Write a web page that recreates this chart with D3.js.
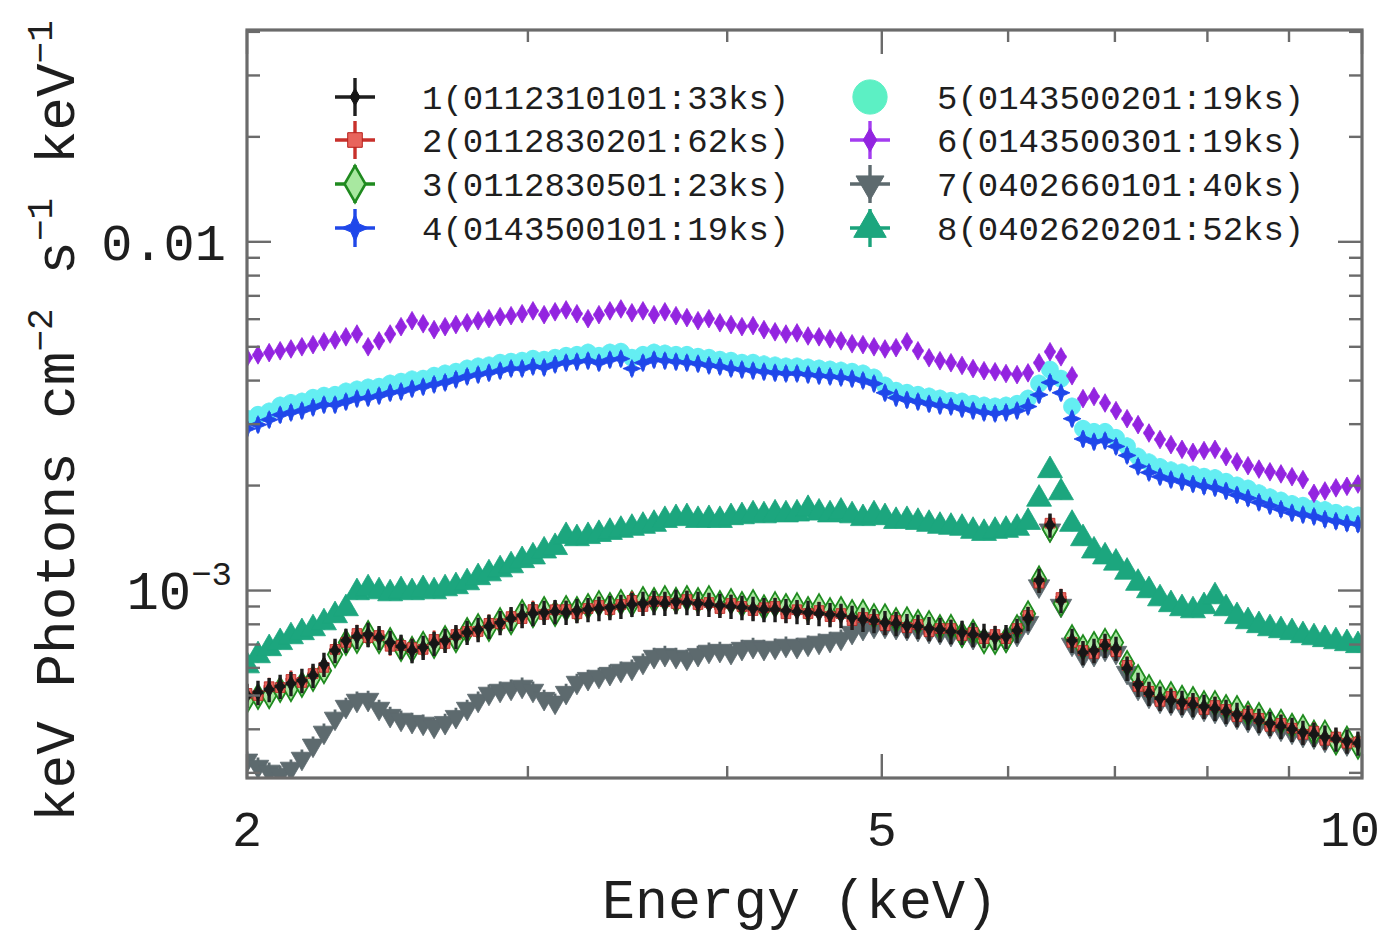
<!DOCTYPE html>
<html>
<head>
<meta charset="utf-8">
<script src="https://cdn.jsdelivr.net/npm/d3@7"></script>
<style>
  body { margin: 0; background: #fff; }
  svg { display: block; }
  text { font-family: "Liberation Mono", "DejaVu Sans Mono", monospace; fill: #1e1e1e; }
</style>
</head>
<body>
<svg id="chart" width="1382" height="934"></svg>
<script>
// ---- data: unfolded spectra, flux in units of 1e-3 photons cm^-2 s^-1 keV^-1 ----
const FLUX_UNIT = 1e-3;

const energy = [
  2.000,2.032,2.065,2.098,2.131,2.165,2.200,2.235,2.271,2.307,
  2.344,2.382,2.420,2.459,2.498,2.538,2.579,2.620,2.662,2.704,
  2.748,2.792,2.836,2.882,2.928,2.975,3.022,3.071,3.120,3.170,
  3.220,3.272,3.324,3.377,3.431,3.486,3.542,3.599,3.656,3.715,
  3.774,3.835,3.896,3.958,4.022,4.086,4.152,4.218,4.286,4.354,
  4.424,4.495,4.567,4.640,4.714,4.790,4.866,4.944,5.023,5.104,
  5.185,5.268,5.353,5.438,5.525,5.614,5.704,5.795,5.888,5.982,
  6.078,6.175,6.274,6.374,6.476,6.580,6.685,6.792,6.901,7.011,
  7.124,7.238,7.353,7.471,7.590,7.712,7.835,7.961,8.088,8.218,
  8.349,8.483,8.618,8.756,8.896,9.039,9.183,9.330,9.479,9.631,
  9.785,9.942
];

const obs1 = [
  .500,.510,.520,.531,.541,.552,.571,.614,.673,.719,
  .738,.748,.733,.710,.691,.673,.687,.705,.719,.738,
  .758,.773,.789,.809,.831,.848,.859,.865,.870,.865,
  .876,.882,.888,.894,.900,.912,.918,.924,.918,.930,
  .924,.918,.912,.906,.900,.894,.888,.882,.882,.876,
  .870,.865,.859,.853,.848,.837,.826,.820,.809,.804,
  .793,.789,.778,.773,.763,.758,.748,.743,.733,.738,
  .768,.831,1.07,1.54,.936,.719,.664,.673,.696,.682,
  .598,.538,.507,.491,.484,.478,.471,.465,.459,.450,
  .441,.433,.424,.416,.408,.400,.392,.387,.380,.375,
  .370,.365
];

const obs2 = [
  .507,.500,.530,.527,.556,.545,.578,.602,.678,.710,
  .753,.733,.743,.692,.696,.686,.678,.724,.705,.748,
  .763,.763,.805,.803,.842,.831,.882,.854,.881,.882,
  .858,.888,.906,.882,.912,.937,.900,.930,.930,.918,
  .942,.912,.924,.888,.918,.900,.876,.893,.900,.858,
  .881,.859,.876,.842,.859,.820,.837,.826,.793,.820,
  .783,.799,.762,.778,.778,.743,.758,.728,.748,.728,
  .778,.848,1.05,1.56,.955,.710,.673,.660,.701,.668,
  .610,.531,.514,.481,.497,.472,.477,.456,.468,.456,
  .435,.442,.430,.408,.416,.403,.387,.395,.372,.380,
  .365,.368
];

const obs3 = [
  .484,.497,.499,.520,.523,.538,.560,.589,.655,.710,
  .719,.753,.718,.719,.682,.678,.701,.696,.728,.723,
  .768,.788,.779,.820,.814,.865,.853,.882,.859,.888,
  .882,.900,.917,.906,.924,.918,.943,.936,.948,.937,
  .949,.936,.948,.918,.930,.912,.924,.893,.911,.900,
  .905,.882,.899,.876,.882,.865,.865,.842,.841,.820,
  .825,.810,.804,.783,.784,.748,.758,.718,.714,.723,
  .783,.858,1.08,1.50,.917,.733,.686,.700,.715,.709,
  .618,.563,.527,.507,.503,.491,.487,.474,.474,.462,
  .459,.442,.438,.421,.419,.408,.405,.390,.390,.368,
  .375,.358
];

const obs4 = [
  2.91,2.99,3.09,3.19,3.24,3.28,3.35,3.41,3.41,3.48,
  3.55,3.57,3.62,3.69,3.72,3.79,3.84,3.90,3.95,4.03,
  4.11,4.16,4.21,4.27,4.33,4.33,4.39,4.36,4.45,4.50,
  4.53,4.56,4.50,4.59,4.62,4.33,4.50,4.59,4.56,4.53,
  4.50,4.47,4.42,4.39,4.33,4.30,4.27,4.24,4.21,4.19,
  4.19,4.16,4.13,4.11,4.08,4.05,4.00,3.92,3.69,3.57,
  3.52,3.48,3.43,3.39,3.37,3.32,3.28,3.24,3.22,3.24,
  3.28,3.37,3.64,3.95,3.69,3.11,2.72,2.67,2.69,2.59,
  2.44,2.27,2.18,2.12,2.08,2.05,2.02,1.99,1.97,1.93,
  1.88,1.84,1.79,1.75,1.71,1.67,1.65,1.63,1.60,1.58,
  1.56,1.55
];

const obs5 = [
  3.11,3.19,3.26,3.39,3.45,3.48,3.57,3.62,3.64,3.72,
  3.77,3.82,3.84,3.92,3.97,4.03,4.05,4.13,4.19,4.24,
  4.33,4.39,4.42,4.50,4.53,4.56,4.62,4.59,4.65,4.71,
  4.74,4.81,4.71,4.81,4.84,4.65,4.74,4.81,4.78,4.74,
  4.74,4.68,4.65,4.59,4.56,4.50,4.50,4.45,4.42,4.39,
  4.39,4.36,4.33,4.30,4.27,4.24,4.19,4.08,3.87,3.74,
  3.69,3.64,3.60,3.55,3.50,3.48,3.43,3.39,3.37,3.39,
  3.43,3.55,3.92,4.30,4.05,3.37,2.91,2.85,2.85,2.74,
  2.59,2.42,2.33,2.26,2.21,2.18,2.15,2.12,2.10,2.05,
  2.00,1.96,1.90,1.85,1.81,1.77,1.75,1.72,1.70,1.67,
  1.65,1.64
];

const obs6 = [
  4.65,4.74,4.81,4.87,4.93,5.00,5.07,5.17,5.23,5.34,
  5.44,5.00,5.20,5.44,5.71,5.94,5.82,5.60,5.71,5.79,
  5.86,5.94,6.02,6.10,6.14,6.22,6.34,6.18,6.30,6.38,
  6.22,6.02,6.18,6.34,6.42,6.26,6.34,6.18,6.30,6.14,
  6.06,5.94,6.02,5.86,5.79,5.71,5.75,5.60,5.52,5.44,
  5.48,5.37,5.34,5.27,5.20,5.10,5.07,5.00,4.93,4.97,
  5.17,4.87,4.65,4.56,4.50,4.42,4.33,4.27,4.24,4.19,
  4.16,4.21,4.50,4.84,4.68,4.13,3.55,3.60,3.45,3.28,
  3.11,2.99,2.83,2.71,2.62,2.54,2.49,2.52,2.54,2.42,
  2.34,2.28,2.23,2.19,2.16,2.12,2.08,1.90,1.93,1.97,
  1.99,2.02
];

const obs7 = [
  .326,.313,.303,.297,.309,.330,.360,.392,.430,.465,
  .484,.487,.459,.438,.427,.421,.416,.408,.418,.435,
  .459,.484,.507,.517,.524,.531,.517,.490,.478,.510,
  .545,.559,.567,.578,.590,.598,.622,.647,.655,.647,
  .639,.655,.669,.673,.664,.682,.691,.682,.687,.696,
  .691,.701,.710,.719,.729,.758,.778,.789,.789,.783,
  .778,.773,.763,.758,.748,.743,.733,.729,.719,.719,
  .748,.809,1.03,1.49,.906,.701,.651,.655,.678,.664,
  .582,.524,.497,.481,.475,.468,.462,.456,.450,.441,
  .433,.424,.416,.408,.400,.392,.384,.380,.372,.367,
  .363,.358
];

const obs8 = [
  .609,.651,.682,.710,.738,.758,.778,.809,.848,.888,
  .987,1.013,.993,.980,1.000,.987,1.007,.993,1.013,1.027,
  1.054,1.090,1.118,1.148,1.179,1.22,1.25,1.30,1.33,1.43,
  1.41,1.43,1.45,1.47,1.49,1.51,1.53,1.55,1.59,1.61,
  1.62,1.59,1.60,1.59,1.62,1.63,1.65,1.64,1.66,1.65,
  1.66,1.71,1.67,1.65,1.68,1.64,1.61,1.65,1.62,1.58,
  1.59,1.57,1.55,1.53,1.52,1.51,1.48,1.46,1.48,1.49,
  1.51,1.57,1.83,2.21,1.91,1.55,1.41,1.30,1.25,1.20,
  1.13,1.05,1.00,.948,.912,.888,.876,.900,.961,.888,
  .843,.815,.794,.778,.768,.758,.743,.733,.724,.714,
  .705,.696
];

// fractional 1-sigma error per observation
const relErr = [0.08, 0.06, 0.06, 0.05, 0.06, 0.04, 0.06, 0.045];

const obsLabels = [
  "1(0112310101:33ks)", "2(0112830201:62ks)", "3(0112830501:23ks)", "4(0143500101:19ks)",
  "5(0143500201:19ks)", "6(0143500301:19ks)", "7(0402660101:40ks)", "8(0402620201:52ks)"
];

const xTickValues = [2, 3, 4, 5, 6, 7, 8, 9, 10];
const xTickLabels = ["2", "5", "10"];
const yTickValues = [3e-4,4e-4,5e-4,6e-4,7e-4,8e-4,9e-4,1e-3,2e-3,3e-3,4e-3,5e-3,6e-3,7e-3,8e-3,9e-3,1e-2,2e-2,3e-2,4e-2];

// ---- layout ----
const plot = { left: 247, right: 1362, top: 30, bottom: 778 };
const svg = d3.select("#chart");

const x = d3.scaleLog().domain([2, 10]).range([plot.left, plot.right]);
const y = d3.scaleLog().domain([2.9e-4, 0.0405]).range([plot.bottom, plot.top]);

svg.append("defs").append("clipPath").attr("id", "plotClip")
  .append("rect")
  .attr("x", plot.left).attr("y", plot.top)
  .attr("width", plot.right - plot.left).attr("height", plot.bottom - plot.top);

// marker shapes
const star4 = s => `M0,${-s}L${s*0.3},${-s*0.3}L${s},0L${s*0.3},${s*0.3}L0,${s}L${-s*0.3},${s*0.3}L${-s},0L${-s*0.3},${-s*0.3}Z`;
const sym = (type, size) => d3.symbol().type(type).size(size)();

const styles = [
  { bar: "#1e1e1e", fill: "#161616", stroke: "#161616", shape: k => sym(d3.symbolDiamond, 70 * k * k), bw: 3.4 },
  { bar: "#c8302b", fill: "#e8645c", stroke: "#b8201c", shape: k => sym(d3.symbolSquare, 95 * k * k), bw: 2.8 },
  { bar: "#1f8a1f", fill: "#a8e8a0", stroke: "#1f8a1f", shape: k => sym(d3.symbolDiamond, 180 * k * k), bw: 2.4 },
  { bar: "#2048e8", fill: "#1f47ea", stroke: "#1f47ea", shape: k => star4(9 * k), bw: 3.2 },
  { bar: "#5ee8ec", fill: "#64eef2", stroke: "#64eef2", shape: k => sym(d3.symbolCircle, 230 * k * k), bw: 3 },
  { bar: "#a43cf0", fill: "#9324e0", stroke: "#9324e0", shape: k => sym(d3.symbolDiamond, 100 * k * k), bw: 3 },
  { bar: "#5d6a6e", fill: "#5d6a6e", stroke: "#5d6a6e", shape: k => sym(d3.symbolTriangle, 200 * k * k), rot: 180, bw: 2.8 },
  { bar: "#1aa37b", fill: "#1ca67e", stroke: "#1ca67e", shape: k => sym(d3.symbolTriangle, 270 * k * k), bw: 2.8 }
];
// legend swatch for observation 5 is drawn in its mint tone
const legendFill5 = "#5cf0c4";
const legendScale = [1.1, 1.5, 1.45, 1.5, 2.0, 1.25, 1.3, 1.3];

const observations = [obs1, obs2, obs3, obs4, obs5, obs6, obs7, obs8];
const drawOrder = [4, 3, 5, 7, 6, 2, 1, 0];

const dataLayer = svg.append("g").attr("clip-path", "url(#plotClip)");

function binEdges(i) {
  const e = energy[i];
  const prev = i > 0 ? energy[i - 1] : e * e / energy[i + 1];
  const next = i < energy.length - 1 ? energy[i + 1] : e * e / energy[i - 1];
  return [Math.sqrt(prev * e), Math.sqrt(e * next)];
}

drawOrder.forEach(si => {
  const st = styles[si];
  const pts = observations[si].map((v, i) => ({ i, e: energy[i], f: v * FLUX_UNIT }));
  const g = dataLayer.append("g");
  g.selectAll("path.err").data(pts).join("path")
    .attr("class", "err")
    .attr("fill", "none")
    .attr("stroke", st.bar)
    .attr("stroke-width", st.bw)
    .attr("d", d => {
      const [lo, hi] = binEdges(d.i);
      const err = relErr[si];
      return `M${x(lo)},${y(d.f)}H${x(hi)}M${x(d.e)},${y(d.f * (1 - err))}V${y(d.f * (1 + err))}`;
    });
  g.selectAll("path.mk").data(pts).join("path")
    .attr("class", "mk")
    .attr("transform", d => `translate(${x(d.e)},${y(d.f)})${st.rot ? ` rotate(${st.rot})` : ""}`)
    .attr("d", st.shape(1))
    .attr("fill", st.fill)
    .attr("stroke", st.stroke)
    .attr("stroke-width", si === 2 ? 1.8 : 0.8);
});

// ---- frame and ticks ----
const axisColor = "#6b6b6b";
const axes = svg.append("g").attr("stroke", axisColor).attr("stroke-width", 2.4);

const majorX = new Set([2, 5, 10]);
xTickValues.forEach(v => {
  const px = x(v), len = majorX.has(v) ? 24 : 12;
  axes.append("line").attr("x1", px).attr("x2", px).attr("y1", plot.bottom).attr("y2", plot.bottom - len);
  axes.append("line").attr("x1", px).attr("x2", px).attr("y1", plot.top).attr("y2", plot.top + len);
});
yTickValues.forEach(v => {
  const py = y(v);
  const major = Math.abs(Math.log10(v) - Math.round(Math.log10(v))) < 1e-6;
  const len = major ? 24 : 13;
  axes.append("line").attr("x1", plot.left).attr("x2", plot.left + len).attr("y1", py).attr("y2", py);
  axes.append("line").attr("x1", plot.right).attr("x2", plot.right - len).attr("y1", py).attr("y2", py);
});
svg.append("rect")
  .attr("x", plot.left).attr("y", plot.top)
  .attr("width", plot.right - plot.left).attr("height", plot.bottom - plot.top)
  .attr("fill", "none").attr("stroke", axisColor).attr("stroke-width", 3.2);

// ---- tick labels ----
xTickLabels.forEach(t => {
  const last = t === "10";
  svg.append("text")
    .attr("x", last ? 1380 : x(+t)).attr("y", 846)
    .attr("text-anchor", last ? "end" : "middle")
    .attr("font-size", 50)
    .text(t);
});

svg.append("text")
  .attr("x", 226).attr("y", 260)
  .attr("text-anchor", "end")
  .attr("font-size", 52)
  .text("0.01");

const tMinus3 = svg.append("text")
  .attr("x", 232).attr("y", 609)
  .attr("text-anchor", "end")
  .attr("font-size", 54);
tMinus3.append("tspan").text("10");
tMinus3.append("tspan").attr("font-size", 34).attr("dy", -24).text("\u22123");

// ---- axis titles ----
svg.append("text")
  .attr("x", 800).attr("y", 918)
  .attr("text-anchor", "middle")
  .attr("font-size", 55)
  .text("Energy (keV)");

const yTitle = svg.append("text")
  .attr("transform", "translate(74,822) rotate(-90)")
  .attr("font-size", 56);
const supOn = 22;
yTitle.append("tspan").text("keV Photons cm");
yTitle.append("tspan").attr("font-size", 36).attr("dy", -supOn).text("\u22122");
yTitle.append("tspan").attr("dy", supOn).text(" s");
yTitle.append("tspan").attr("font-size", 36).attr("dy", -supOn).text("\u22121");
yTitle.append("tspan").attr("dy", supOn).text(" keV");
yTitle.append("tspan").attr("font-size", 36).attr("dy", -supOn).text("\u22121");

// ---- legend ----
const legendRowsY = [97, 140, 184, 228];
const legendCols = [{ mark: 355, text: 422 }, { mark: 870, text: 937 }];
const legend = svg.append("g");
obsLabels.forEach((lab, si) => {
  const col = legendCols[Math.floor(si / 4)];
  const ly = legendRowsY[si % 4];
  const st = styles[si];
  const lg = legend.append("g").attr("transform", `translate(${col.mark},${ly})`);
  if (si !== 4) {
    lg.append("path")
      .attr("d", "M-20,0H20M0,-19V19")
      .attr("stroke", st.bar).attr("stroke-width", 3.4).attr("fill", "none");
  }
  lg.append("path")
    .attr("d", st.shape(legendScale[si]))
    .attr("transform", st.rot ? `rotate(${st.rot})` : null)
    .attr("fill", si === 4 ? legendFill5 : st.fill)
    .attr("stroke", si === 4 ? legendFill5 : st.stroke)
    .attr("stroke-width", si === 2 ? 2.6 : 1);
  legend.append("text")
    .attr("x", col.text).attr("y", ly)
    .attr("dy", "0.36em")
    .attr("font-size", 34)
    .text(lab);
});
</script>
</body>
</html>
